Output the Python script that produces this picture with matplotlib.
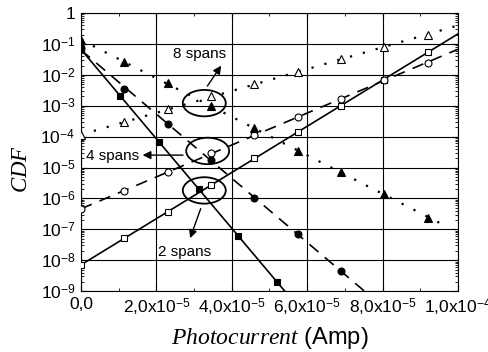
import matplotlib.pyplot as plt
import numpy as np
from matplotlib.patches import Ellipse
from matplotlib.ticker import LogLocator, NullFormatter, FixedLocator

plt.rcParams['font.family'] = 'Liberation Sans'
plt.rcParams['mathtext.fontset'] = 'custom'
plt.rcParams['mathtext.rm'] = 'Liberation Sans'
plt.rcParams['mathtext.it'] = 'Liberation Serif:italic'

# data (x in Amp)
x_open = np.array([0, 1.15, 2.3, 3.45, 4.6, 5.75, 6.9, 8.05, 9.2]) * 1e-5
sq_open = [7e-9, 5.1e-8, 3.7e-7, 2.7e-6, 2.0e-5, 1.44e-4, 1.0e-3, 6.8e-3, 5.6e-2]
circ_open = [4.5e-7, 1.8e-6, 7e-6, 2.9e-5, 1.1e-4, 4.4e-4, 1.65e-3, 6.8e-3, 2.5e-2]
tri_open = [1.1e-4, 3e-4, 7.6e-4, 2e-3, 4.9e-3, 1.26e-2, 3.2e-2, 8.1e-2, 2e-1]

x_sq_fill = np.array([0, 1.04, 2.08, 3.12, 4.16, 5.2]) * 1e-5
sq_fill = [6.6e-2, 2.1e-3, 6.6e-5, 2e-6, 6.2e-8, 2e-9]
x_circ_fill = np.array([0, 1.15, 2.3, 3.45, 4.6, 5.75, 6.9]) * 1e-5
circ_fill = [7.2e-2, 3.6e-3, 2.5e-4, 1.7e-5, 1.05e-6, 6.9e-8, 4.5e-9]
x_tri_fill = x_open
tri_fill = [1.3e-1, 2.6e-2, 5.3e-3, 9.8e-4, 1.85e-4, 3.5e-5, 7e-6, 1.35e-6, 2.4e-7]

xticks = np.array([0, 2, 4, 6, 8, 10]) * 1e-5
xlabels = ['0,0', r'2,0x10$^{-5}$', r'4,0x10$^{-5}$', r'6,0x10$^{-5}$',
           r'8,0x10$^{-5}$', r'1,0x10$^{-4}$']
ydecades = np.arange(-9, 1)

fig = plt.figure(figsize=(4.88, 3.52), dpi=100)
ax = fig.add_axes([0.166, 0.173, 0.7725, 0.790])

series = [
    (x_open, sq_open, 's', 'none', '-', 1e-4),
    (x_open, circ_open, 'o', 'none', (0, (7, 5)), 1e-4),
    (x_open, tri_open, '^', 'none', (0, (1, 5)), 1e-4),
    (x_sq_fill, sq_fill, 's', 'k', '-', 1e-4),
    (x_circ_fill, circ_fill, 'o', 'k', (0, (7, 5)), 1e-4),
    (x_tri_fill, tri_fill, '^', 'k', (0, (1, 5)), 9.7e-5),
]

for xs, ys, mk, fc, ls, xend in series:
    p = np.polyfit(xs, np.log10(ys), 1)
    xf = np.linspace(0, xend, 50)
    lw = 1.6 if ls == (0, (1, 5)) else 1.2
    ax.plot(xf, 10 ** np.polyval(p, xf), color='k', ls=ls, lw=lw, zorder=2)
    ax.plot(xs, ys, ls='none', marker=mk, mfc=fc if fc != 'none' else 'white',
            mec='k', mew=0.8, ms=5.8 if mk == '^' else 5, zorder=3)

ax.set_yscale('log')
ax.set_xlim(0, 1e-4)
ax.set_ylim(1e-9, 1)
ax.set_xticks(xticks)
ax.set_xticklabels(xlabels, fontsize=12.5)
ax.xaxis.set_minor_locator(FixedLocator(np.array([1, 3, 5, 7, 9]) * 1e-5))
ax.set_yticks(10.0 ** ydecades)
ax.set_yticklabels(['1' if d == 0 else r'10$^{%d}$' % d for d in ydecades], fontsize=12.5)
ax.yaxis.set_minor_locator(LogLocator(base=10, subs=np.arange(2, 10), numticks=20))
ax.yaxis.set_minor_formatter(NullFormatter())
ax.tick_params(which='both', direction='in', top=True, right=True, color='k')
ax.tick_params(which='major', length=4, width=0.8, pad=4)
ax.tick_params(which='minor', length=2, width=0.6)
ax.grid(True, which='major', color='k', lw=0.8)

ax.set_xlabel(r'$\mathit{Photocurrent}$ (Amp)', fontsize=17, labelpad=5)
ax.set_ylabel(r'$\mathit{CDF}$', fontsize=16.5)
ax.yaxis.set_label_coords(-0.13, 0.44)

# ellipses and annotations
for cx, cy in [(0.327, 0.676), (0.336, 0.504), (0.327, 0.362)]:
    ax.add_patch(Ellipse((cx, cy), 0.114, 0.095, transform=ax.transAxes,
                         fill=False, ec='k', lw=1.3, zorder=4))

arrow = dict(arrowstyle='-|>', color='k', lw=1, mutation_scale=12)
ax.annotate('', xy=(0.376, 0.819), xytext=(0.331, 0.729), xycoords='axes fraction', arrowprops=arrow)
ax.annotate('', xy=(0.156, 0.489), xytext=(0.278, 0.489), xycoords='axes fraction', arrowprops=arrow)
ax.annotate('', xy=(0.287, 0.181), xytext=(0.320, 0.306), xycoords='axes fraction', arrowprops=arrow)
ax.text(0.314, 0.853, '8 spans', transform=ax.transAxes, ha='center', va='center', fontsize=11)
ax.text(0.0836, 0.486, '4 spans', transform=ax.transAxes, ha='center', va='center', fontsize=11)
ax.text(0.276, 0.141, '2 spans', transform=ax.transAxes, ha='center', va='center', fontsize=11)

plt.savefig('out.png', dpi=100)
